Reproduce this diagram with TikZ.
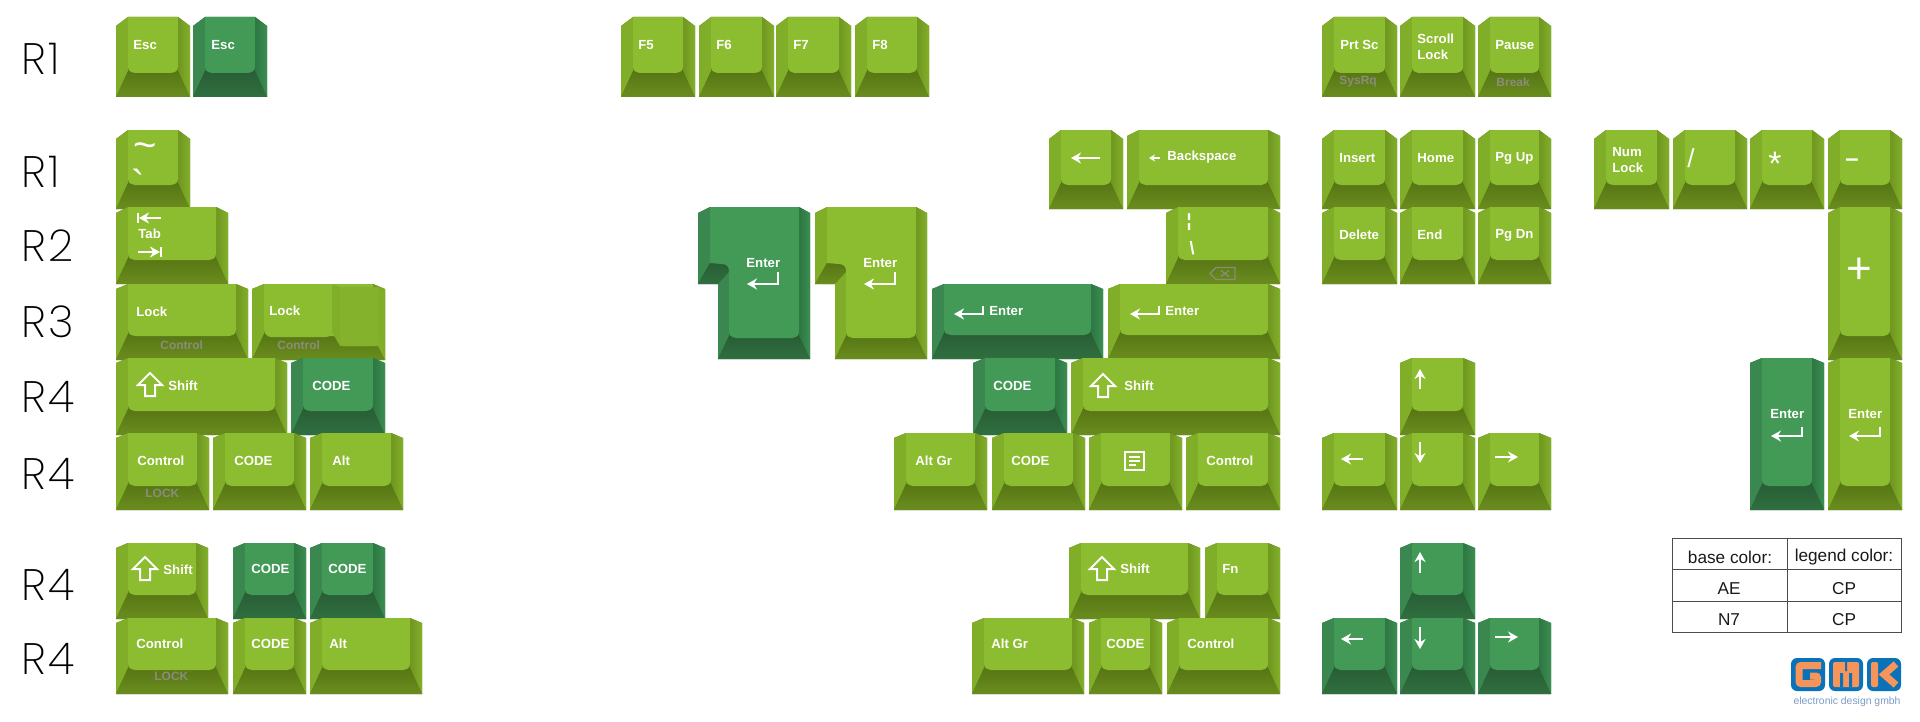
\documentclass[tikz,border=0pt]{standalone}
\usepackage{fontspec}
\setmainfont{Liberation Sans}
\newfontfamily\rowfont[LetterSpace=5]{Poppins ExtraLight}
\newfontfamily\plainlegend{Liberation Sans}
\usepackage{xcolor}
\usetikzlibrary{arrows.meta}

\definecolor{limetop}{HTML}{8CBC2F}
\definecolor{limeleft}{HTML}{80AE29}
\definecolor{limeinner}{HTML}{6F961F}
\definecolor{limeouter}{HTML}{82B02A}
\definecolor{limefronta}{HTML}{577615}
\definecolor{limefrontb}{HTML}{6A8D1E}
\definecolor{pinetop}{HTML}{439A57}
\definecolor{pineleft}{HTML}{3A8750}
\definecolor{pineinner}{HTML}{2D7642}
\definecolor{pineouter}{HTML}{3B8E52}
\definecolor{pinefronta}{HTML}{295E35}
\definecolor{pinefrontb}{HTML}{2F6F3F}
\definecolor{gmkblue}{HTML}{0A72B8}
\definecolor{gmkorange}{HTML}{F7945A}
\definecolor{gmktext}{HTML}{7A9BC4}
\definecolor{ghost}{HTML}{8C8C7A}

\tikzset{
  legend/.style={anchor=west,inner sep=0pt,text=white,font=\fontsize{6.6}{8}\selectfont\bfseries},
  ghostlegend/.style={anchor=west,inner sep=0pt,text=ghost,font=\fontsize{6}{7}\selectfont\bfseries},
  rowlabel/.style={anchor=west,inner sep=0pt,text=black,font=\fontsize{22}{24}\selectfont\rowfont},
  cellmark/.style={inner sep=0pt,text=black!90,font=\fontsize{8.6}{10}\selectfont},
  legendarrow/.style={draw=white,line width=1pt,-{Stealth[length=5pt,width=5.5pt]}},
  legendline/.style={draw=white,line width=1pt},
  tablerule/.style={draw=black!70,line width=0.5pt}
}

\newcommand{\keycap}[6]{
  \fill[#6fronta] (#1,#4) -- (#1,#3+#5) -- (#1+12,#3) -- (#2-12,#3) -- (#2,#3+#5) -- (#2,#4) -- cycle;
  \fill[#6left] (#1,#4) -- (#1,#3+#5) -- (#1+12,#3) -- (#1+12,#4-26) -- cycle;
  \shade[left color=#6inner,right color=#6outer] (#2,#4) -- (#2,#3+#5) -- (#2-12,#3) -- (#2-12,#4-26) -- cycle;
  \shade[top color=#6fronta,bottom color=#6frontb] (#1,#4) -- (#1+12,#4-26) -- (#2-12,#4-26) -- (#2,#4) -- cycle;
  \fill[#6top] (#1+12,#3) -- (#2-12,#3) -- (#2-12,#4-31) .. controls (#2-12,#4-26) and (#2-14,#4-25) .. (#2-19,#4-24) -- (#1+19,#4-24) .. controls (#1+14,#4-25) and (#1+12,#4-26) .. (#1+12,#4-31) -- cycle;
}
\newcommand{\isoenter}[2]{
  \fill[#2fronta] (#1,284) -- (#1,213) -- (#1+12,207) -- (#1+101,207) -- (#1+112,213) -- (#1+112,359) -- (#1+20,359) -- (#1+20,284) -- cycle;
  \fill[#2left] (#1,284) -- (#1,213) -- (#1+12,207) -- (#1+12,263) -- cycle;
  \shade[top color=#2fronta,bottom color=#2frontb] (#1,284) -- (#1+12,263) -- (#1+24,264) -- (#1+31,272) -- (#1+20,284) -- cycle;
  \fill[#2left] (#1+20,359) -- (#1+20,284) -- (#1+31,272) -- (#1+31,336) -- cycle;
  \shade[left color=#2inner,right color=#2outer] (#1+112,359) -- (#1+112,213) -- (#1+101,207) -- (#1+101,336) -- cycle;
  \shade[top color=#2fronta,bottom color=#2frontb] (#1+20,359) -- (#1+31,336) -- (#1+101,336) -- (#1+112,359) -- cycle;
  \fill[#2top] (#1+12,207) -- (#1+101,207) -- (#1+101,331) .. controls (#1+101,336) and (#1+99,337) .. (#1+94,338) -- (#1+38,338) .. controls (#1+33,337) and (#1+31,336) .. (#1+31,331) -- (#1+31,272) .. controls (#1+31,267) and (#1+29,264) .. (#1+24,264) -- (#1+12,263) -- cycle;
}
\newcommand{\shiftmark}[2]{
  \draw[legendline,line join=miter] (#1+12,#2) -- (#1+24,#2+12) -- (#1+17,#2+12) -- (#1+17,#2+23) -- (#1+7,#2+23) -- (#1+7,#2+12) -- (#1,#2+12) -- cycle;
}

\begin{document}
\begin{tikzpicture}[x=0.5pt,y=-0.5pt]
  \useasboundingbox (0,0) rectangle (1920,722);
  \node[rowlabel] (rowa) at (21,59) {R1};
  \node[rowlabel] (rowb) at (21,172) {R1};
  \node[rowlabel] (rowc) at (21,246) {R2};
  \node[rowlabel] (rowd) at (21,322) {R3};
  \node[rowlabel] (rowe) at (21,397) {R4};
  \node[rowlabel] (rowf) at (21,474) {R4};
  \node[rowlabel] (rowg) at (21,585) {R4};
  \node[rowlabel] (rowh) at (21,659) {R4};

  \keycap{116}{190}{17}{97}{9}{lime}
  \keycap{193}{267}{17}{97}{9}{pine}
  \keycap{621}{695}{17}{97}{9}{lime}
  \keycap{699}{774}{17}{97}{9}{lime}
  \keycap{776}{851}{17}{97}{9}{lime}
  \keycap{855}{929}{17}{97}{9}{lime}
  \keycap{1322}{1397}{17}{97}{9}{lime}
  \keycap{1400}{1475}{17}{97}{9}{lime}
  \keycap{1478}{1551}{17}{97}{9}{lime}

  \keycap{116}{190}{130}{209}{9}{lime}
  \keycap{1049}{1123}{130}{209}{9}{lime}
  \keycap{1127}{1280}{130}{209}{6}{lime}
  \keycap{1322}{1397}{130}{209}{9}{lime}
  \keycap{1400}{1475}{130}{209}{9}{lime}
  \keycap{1478}{1551}{130}{209}{9}{lime}
  \keycap{1594}{1669}{130}{209}{9}{lime}
  \keycap{1673}{1747}{130}{209}{9}{lime}
  \keycap{1750}{1824}{130}{209}{9}{lime}
  \keycap{1828}{1902}{130}{209}{9}{lime}

  \keycap{116}{228}{207}{284}{6}{lime}
  \keycap{1166}{1280}{207}{284}{6}{lime}
  \keycap{1322}{1397}{207}{284}{6}{lime}
  \keycap{1400}{1475}{207}{284}{6}{lime}
  \keycap{1478}{1551}{207}{284}{6}{lime}
  \keycap{1828}{1902}{207}{360}{6}{lime}
  \isoenter{698}{pine}
  \isoenter{815}{lime}

  \keycap{116}{248}{284}{360}{5}{lime}
  \keycap{252}{385}{284}{360}{5}{lime}
  \fill[limeleft] (332,284) -- (340,287) -- (378,287) -- (385,291) -- (385,360) -- (378,346) -- (340,346) -- (332,332) -- cycle;
  \fill[limetop!95!black] (340,287) -- (378,287) [rounded corners=2pt] -- (378,346) -- (340,346) [sharp corners] -- cycle;
  \fill[limetop] (265,284) -- (332,284) [rounded corners=3pt] -- (332,337) -- (265,337) [sharp corners] -- cycle;
  \keycap{932}{1103}{284}{359}{5}{pine}
  \keycap{1108}{1280}{284}{359}{5}{lime}

  \keycap{116}{287}{358}{435}{5}{lime}
  \keycap{291}{385}{358}{435}{5}{pine}
  \keycap{973}{1067}{358}{435}{5}{pine}
  \keycap{1071}{1280}{358}{435}{5}{lime}
  \keycap{1400}{1475}{358}{435}{5}{lime}
  \keycap{1750}{1824}{358}{510}{5}{pine}
  \keycap{1828}{1902}{358}{510}{5}{lime}

  \keycap{116}{209}{433}{510}{5}{lime}
  \keycap{213}{306}{433}{510}{5}{lime}
  \keycap{310}{403}{433}{510}{5}{lime}
  \keycap{894}{987}{433}{510}{5}{lime}
  \keycap{992}{1085}{433}{510}{5}{lime}
  \keycap{1089}{1182}{433}{510}{5}{lime}
  \keycap{1186}{1280}{433}{510}{5}{lime}
  \keycap{1322}{1397}{433}{510}{5}{lime}
  \keycap{1400}{1475}{433}{510}{5}{lime}
  \keycap{1478}{1551}{433}{510}{5}{lime}

  \keycap{116}{208}{543}{619}{5}{lime}
  \keycap{233}{306}{543}{619}{5}{pine}
  \keycap{310}{385}{543}{619}{5}{pine}
  \keycap{1069}{1200}{543}{619}{5}{lime}
  \keycap{1205}{1280}{543}{619}{5}{lime}
  \keycap{1400}{1475}{543}{619}{5}{pine}

  \keycap{116}{228}{618}{694}{5}{lime}
  \keycap{233}{306}{618}{694}{5}{lime}
  \keycap{310}{422}{618}{694}{5}{lime}
  \keycap{972}{1084}{618}{694}{5}{lime}
  \keycap{1089}{1162}{618}{694}{5}{lime}
  \keycap{1167}{1280}{618}{694}{5}{lime}
  \keycap{1322}{1397}{618}{694}{5}{pine}
  \keycap{1400}{1475}{618}{694}{5}{pine}
  \keycap{1478}{1551}{618}{694}{5}{pine}

  \node[legend] (esca) at (133,45) {Esc};
  \node[legend] (escb) at (211,45) {Esc};
  \node[legend] (ffive) at (638,45) {F5};
  \node[legend] (fsix) at (716,45) {F6};
  \node[legend] (fseven) at (793,45) {F7};
  \node[legend] (feight) at (872,45) {F8};
  \node[legend] (prtsc) at (1340,45) {Prt Sc};
  \node[ghostlegend] (sysrq) at (1339,82) {SysRq};
  \node[legend] (scroll) at (1417,39) {Scroll};
  \node[legend] (scrolllock) at (1417,55) {Lock};
  \node[legend] (pause) at (1495,45) {Pause};
  \node[ghostlegend] (break) at (1496,82) {Break};

  \node[legend,font=\fontsize{20}{21}\selectfont] (tilde) at (133,151) {\string~};
  \node[legend,font=\fontsize{20}{21}\selectfont\plainlegend] (grave) at (131,184) {\string`};
  \node[legend] (backspace) at (1167,157) {Backspace};
  \draw[legendarrow] (1100,158) -- (1071,158);
  \draw[draw=white,line width=0.6pt,-{Stealth[length=3pt,width=3.5pt]}] (1160,158) -- (1149,158);
  \node[legend] (insert) at (1339,158) {Insert};
  \node[legend] (home) at (1417,158) {Home};
  \node[legend] (pgup) at (1495,158) {Pg Up};
  \node[legend] (num) at (1612,152) {Num};
  \node[legend] (numlock) at (1612,168) {Lock};
  \node[legend,font=\fontsize{13}{14}\selectfont] (slash) at (1687,158) {/};
  \node[legend,anchor=center,font=\fontsize{17}{18}\selectfont] (star) at (1775,164) {*};
  \node[legend,anchor=center,font=\fontsize{12}{13}\selectfont\bfseries] (minus) at (1852,163) {\symbol{"2013}};

  \node[legend] (tab) at (138,234) {Tab};
  \draw[legendarrow] (161,218) -- (139,218);
  \draw[legendline] (138,213) -- (138,223);
  \draw[legendarrow] (138,252) -- (160,252);
  \draw[legendline] (161,247) -- (161,257);
  \node[legend,anchor=center,font=\fontsize{9}{10}\selectfont\bfseries] (brokenbar) at (1189,222) {¦};
  \node[legend,anchor=center,font=\fontsize{9}{10}\selectfont\bfseries] (backslash) at (1192,248) {\textbackslash};
  \draw[ghost,line width=0.6pt] (1210,273.5) -- (1216,267.5) -- (1235,267.5) -- (1235,279.5) -- (1216,279.5) -- cycle;
  \draw[ghost,line width=0.6pt] (1221,270.5) -- (1229,276.5) (1229,270.5) -- (1221,276.5);
  \node[legend] (delete) at (1339,235) {Delete};
  \node[legend] (end) at (1417,235) {End};
  \node[legend] (pgdn) at (1495,235) {Pg Dn};
  \node[legend,anchor=center,font=\fontsize{22}{24}\selectfont] (plus) at (1859,271) {+};

  \node[legend] (entera) at (746,263) {Enter};
  \draw[legendarrow] (778,272) -- (778,284) -- (747,284);
  \node[legend] (enterb) at (863,263) {Enter};
  \draw[legendarrow] (895,272) -- (895,284) -- (864,284);
  \node[legend] (enterc) at (989,311) {Enter};
  \draw[legendarrow] (983,306) -- (983,314) -- (954,314);
  \node[legend] (enterd) at (1165,311) {Enter};
  \draw[legendarrow] (1159,306) -- (1159,314) -- (1130,314);
  \node[legend] (entere) at (1770,414) {Enter};
  \draw[legendarrow] (1802,427) -- (1802,436) -- (1771,436);
  \node[legend] (enterf) at (1848,414) {Enter};
  \draw[legendarrow] (1880,427) -- (1880,436) -- (1849,436);

  \node[legend] (locka) at (136,312) {Lock};
  \node[ghostlegend] (controla) at (160,345) {Control};
  \node[legend] (lockb) at (269,311) {Lock};
  \node[ghostlegend] (controlb) at (277,345) {Control};

  \shiftmark{138}{373}
  \node[legend] (shifta) at (168,386) {Shift};
  \node[legend] (codea) at (312,386) {CODE};
  \node[legend] (codeb) at (993,386) {CODE};
  \shiftmark{1091}{374}
  \node[legend] (shiftb) at (1124,386) {Shift};
  \draw[legendarrow] (1420,389) -- (1420,369);

  \node[legend] (controlc) at (137,461) {Control};
  \node[ghostlegend] (locklow) at (145,493) {LOCK};
  \node[legend] (codec) at (234,461) {CODE};
  \node[legend] (alta) at (332,461) {Alt};
  \node[legend] (altgra) at (915,461) {Alt Gr};
  \node[legend] (coded) at (1011,461) {CODE};
  \draw[legendline] (1125,452) rectangle (1144,470);
  \draw[draw=white,line width=0.7pt] (1129,457) -- (1140,457) (1129,461) -- (1140,461) (1129,465) -- (1136,465);
  \node[legend] (controld) at (1206,461) {Control};
  \draw[legendarrow] (1363,459) -- (1341,459);
  \draw[legendarrow] (1420,442) -- (1420,463);
  \draw[legendarrow] (1495,457) -- (1518,457);

  \shiftmark{133}{557}
  \node[legend] (shiftc) at (163,570) {Shift};
  \node[legend] (codee) at (251,569) {CODE};
  \node[legend] (codef) at (328,569) {CODE};
  \shiftmark{1090}{557}
  \node[legend] (shiftd) at (1120,569) {Shift};
  \node[legend] (fn) at (1222,569) {Fn};
  \draw[legendarrow] (1420,573) -- (1420,552);

  \node[legend] (controle) at (136,644) {Control};
  \node[ghostlegend] (locklowb) at (154,676) {LOCK};
  \node[legend] (codeg) at (251,644) {CODE};
  \node[legend] (altb) at (329,644) {Alt};
  \node[legend] (altgrb) at (991,644) {Alt Gr};
  \node[legend] (codeh) at (1106,644) {CODE};
  \node[legend] (controlf) at (1187,644) {Control};
  \draw[legendarrow] (1363,639) -- (1341,639);
  \draw[legendarrow] (1420,627) -- (1420,649);
  \draw[legendarrow] (1495,637) -- (1518,637);

  \draw[tablerule] (1672,538) rectangle (1901,632);
  \draw[tablerule] (1672,569) -- (1901,569) (1672,601) -- (1901,601) (1787,538) -- (1787,632);
  \node[cellmark] (basehead) at (1730,557) {base color:};
  \node[cellmark] (legendhead) at (1844,557) {legend color:};
  \node[cellmark] (basea) at (1729,589) {AE};
  \node[cellmark] (legenda) at (1844,589) {CP};
  \node[cellmark] (baseb) at (1729,620) {N7};
  \node[cellmark] (legendb) at (1844,620) {CP};

  \fill[gmkblue,rounded corners=3pt] (1791,658) rectangle (1825,691);
  \fill[gmkblue,rounded corners=3pt] (1829,658) rectangle (1863,691);
  \fill[gmkblue,rounded corners=3pt] (1867,658) rectangle (1901,691);
  \draw[gmkorange,line width=3.5pt,rounded corners=1pt] (1821,665.5) -- (1799,665.5) -- (1799,683.5) -- (1817.5,683.5) -- (1817.5,676) -- (1810,676);
  \fill[gmkorange,rounded corners=1pt] (1833,662) rectangle (1859,687);
  \fill[gmkblue] (1840,673) rectangle (1843,687) (1849,673) rectangle (1852,687) (1845,662) rectangle (1847,671);
  \fill[gmkorange,rounded corners=1pt] (1871,662) rectangle (1878,687);
  \draw[gmkorange,line width=3.5pt] (1896,664) -- (1884,674.5) -- (1896,685);
  \node[inner sep=0pt,text=gmktext,font=\fontsize{5.2}{6}\selectfont] (gmkname) at (1847,702) {electronic design gmbh};
\end{tikzpicture}
\end{document}
